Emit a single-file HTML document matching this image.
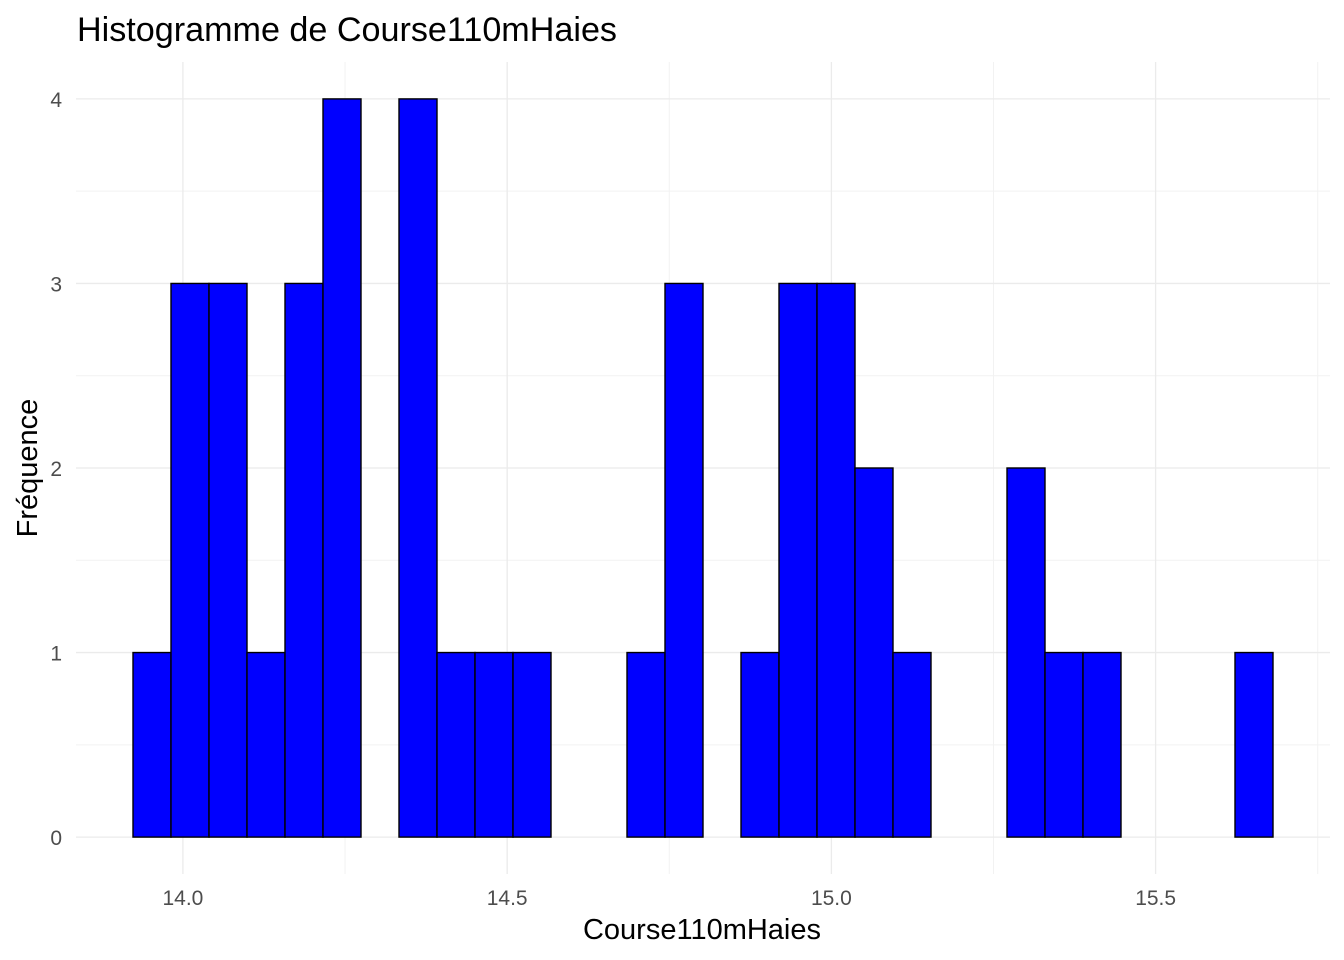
<!DOCTYPE html>
<html><head><meta charset="utf-8"><style>
body{margin:0;background:#fff;}
svg{display:block;font-family:"Liberation Sans",Arial,sans-serif;}
</style></head><body>
<svg id="chart" width="1344" height="960">
<g id="grid"></g>
<g id="bars"></g>
<g id="axes"></g>
<text x="77" y="41" font-size="34" textLength="540" lengthAdjust="spacingAndGlyphs" fill="#000">Histogramme de Course110mHaies</text>
<text x="702" y="939" font-size="29" fill="#000" text-anchor="middle">Course110mHaies</text>
<text transform="translate(37,468) rotate(-90)" font-size="29" fill="#000" text-anchor="middle">Fréquence</text>
</svg>
<script>
const counts = [1,3,3,1,3,4,0,4,1,1,1,0,0,1,3,0,1,3,3,2,1,0,0,2,1,1,0,0,0,1];
const binStart = 13.923;
const binEnd = 15.681;
const xTicks = [14.0,14.5,15.0,15.5];
const xTickLabels = ["14.0","14.5","15.0","15.5"];
const yTicks = [0,1,2,3,4];
const yTickLabels = ["0","1","2","3","4"];

const NS="http://www.w3.org/2000/svg";
const px0=76, px1=1330, py0=874, py1=62;
const xmin=binStart-(binEnd-binStart)*0.05, xmax=binEnd+(binEnd-binStart)*0.05;
const ymax=Math.max(...counts), ymin=-ymax*0.05, ymaxE=ymax*1.05;
const xs=v=>px0+(v-xmin)/(xmax-xmin)*(px1-px0);
const ys=v=>py0-(v-ymin)/(ymaxE-ymin)*(py0-py1);
function mk(tag,attrs,parent){const e=document.createElementNS(NS,tag);for(const k in attrs)e.setAttribute(k,attrs[k]);parent.appendChild(e);return e;}
const grid=document.getElementById('grid'), bars=document.getElementById('bars'), axes=document.getElementById('axes');
for(let i=0;i<xTicks.length;i++){
  const m=xTicks[i]+0.25;
  if(xs(m)<=px1){const l=mk('line',{x1:xs(m),x2:xs(m),y1:py1,y2:py0,stroke:'#f2f2f2','stroke-width':1},grid);
  }
  const m2=xTicks[i]-0.25;
  if(i===0&&xs(m2)>=px0){const l=mk('line',{x1:xs(m2),x2:xs(m2),y1:py1,y2:py0,stroke:'#f2f2f2','stroke-width':1},grid);
  }
}
for(let i=0;i<yTicks.length-1;i++){
  const m=yTicks[i]+0.5;
  const l=mk('line',{x1:px0,x2:px1,y1:ys(m),y2:ys(m),stroke:'#f2f2f2','stroke-width':1},grid);
  
}
xTicks.forEach((t,i)=>{
  const l=mk('line',{x1:xs(t),x2:xs(t),y1:py1,y2:py0,stroke:'#ebebeb','stroke-width':1.3},grid);
  
  const tx=mk('text',{x:xs(t),y:905,'font-size':21,fill:'#4d4d4d','text-anchor':'middle'},axes);
  tx.textContent=xTickLabels[i];
  
});
yTicks.forEach((t,i)=>{
  const l=mk('line',{x1:px0,x2:px1,y1:ys(t),y2:ys(t),stroke:'#ebebeb','stroke-width':1.3},grid);
  
  const tx=mk('text',{x:62,y:ys(t)+8,'font-size':21,fill:'#4d4d4d','text-anchor':'end'},axes);
  tx.textContent=yTickLabels[i];
  
});
const w=(binEnd-binStart)/counts.length;
counts.forEach((c,i)=>{
  const a=xs(binStart+i*w), b=xs(binStart+(i+1)*w);
  const r=mk('rect',{x:a,y:ys(c),width:b-a,height:ys(0)-ys(c),fill:'#0000ff',stroke:'#000','stroke-width':1.4},bars);
  
  
});
</script>
</body></html>
